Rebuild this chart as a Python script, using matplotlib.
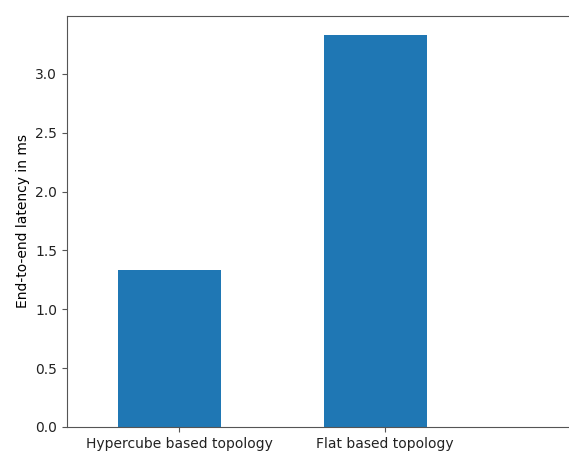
import matplotlib
matplotlib.use("Agg")
import matplotlib.pyplot as plt
import numpy as np

topologies = ["Hypercube based topology", "Flat based topology"]
latency_ms = [1.333, 3.33]

x = np.arange(len(topologies))
tick_shift = 0.045

fig = plt.figure(figsize=(5.69, 4.53), dpi=100)
# axes runs a bit past the right edge, like the cropped original
ax = fig.add_axes([67 / 569, 1 - 427 / 453, 523 / 569, 411.5 / 453])

ax.bar(x, latency_ms, width=0.5, color="#1f77b4")
ax.set_xticks(x + tick_shift)
ax.set_xticklabels(topologies)
ax.set_xlim(-0.5, 2.04)
ax.set_ylim(0, 3.497)
ax.set_ylabel("End-to-end latency in ms")

for s in ax.spines.values():
    s.set_color("#555555")
ax.tick_params(colors="#555555", labelcolor="#222222")

fig.savefig("out.png", dpi=100)
